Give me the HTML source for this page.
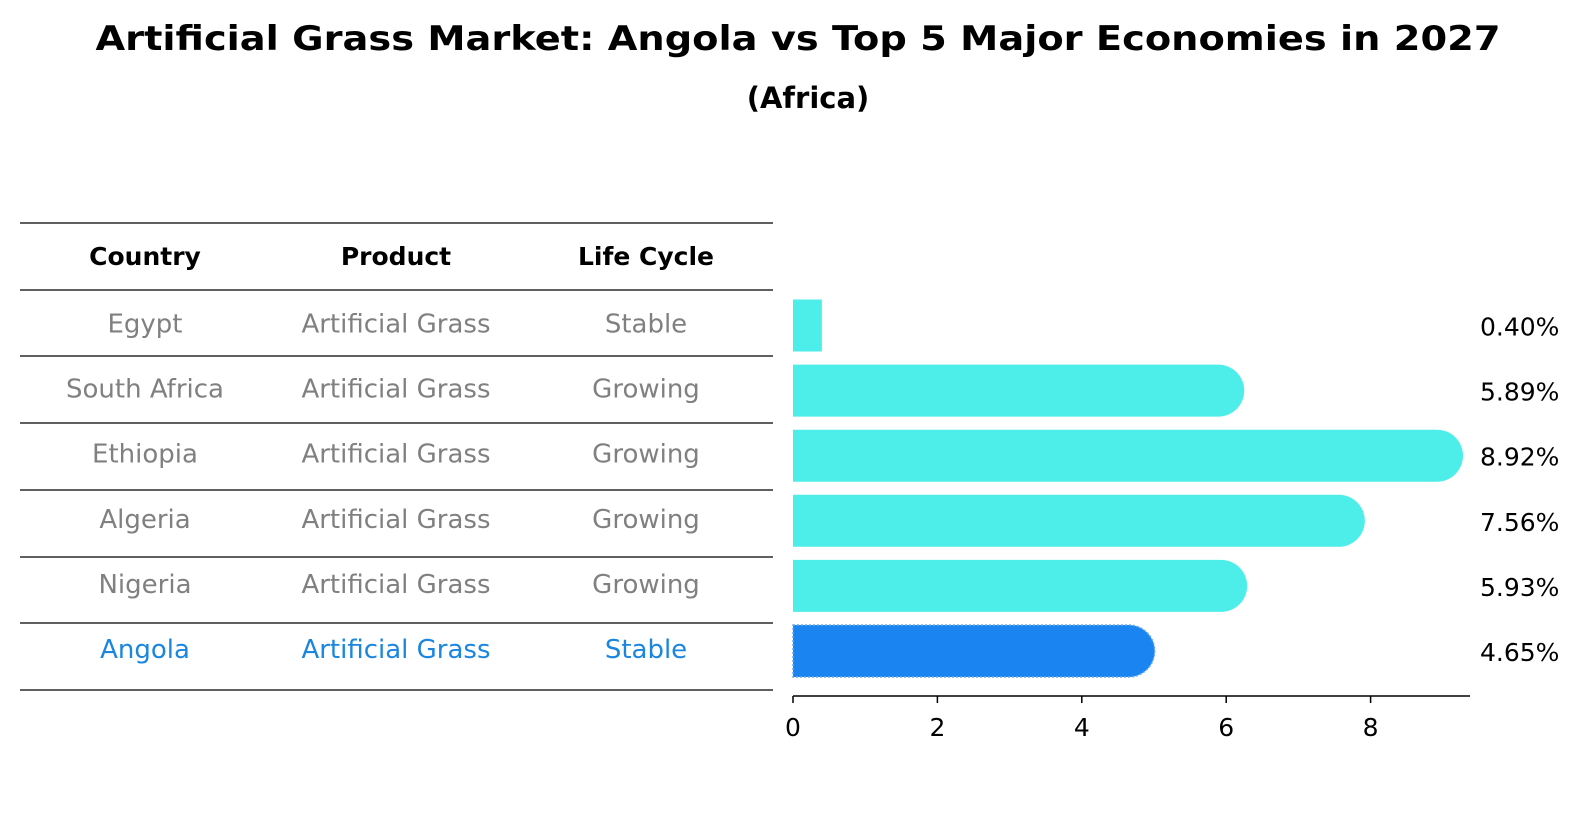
<!DOCTYPE html>
<html><head><meta charset="utf-8"><style>
body{margin:0;background:#fff}
svg{display:block;font-family:"DejaVu Sans","Liberation Sans",sans-serif}
</style></head><body>
<svg id="chart" width="1586" height="823" viewBox="0 0 1586 823" xmlns="http://www.w3.org/2000/svg">
<text x="798" y="50" text-anchor="middle" font-size="34" font-weight="bold" textLength="1405" lengthAdjust="spacingAndGlyphs">Artificial Grass Market: Angola vs Top 5 Major Economies in 2027</text>
<text x="808" y="108" text-anchor="middle" font-size="29" font-weight="bold">(Africa)</text>
<g id="table"></g>
<g id="bars"></g>
</svg>
<script>
const countries=["Egypt","South Africa","Ethiopia","Algeria","Nigeria","Angola"];
const products=["Artificial Grass","Artificial Grass","Artificial Grass","Artificial Grass","Artificial Grass","Artificial Grass"];
const lifeCycles=["Stable","Growing","Growing","Growing","Growing","Stable"];
const values=[0.40,5.89,8.92,7.56,5.93,4.65];
const valueLabels=["0.40%","5.89%","8.92%","7.56%","5.93%","4.65%"];
const xTicks=[0,2,4,6,8];
const headers=["Country","Product","Life Cycle"];

const NS="http://www.w3.org/2000/svg";
function mk(tag,attrs,parent){const e=document.createElementNS(NS,tag);for(const k in attrs)e.setAttribute(k,attrs[k]);parent.appendChild(e);return e;}
const x0=793,pxPerUnit=72.2;
function xScale(v){return x0+v*pxPerUnit;}
function yCenter(i){return 325.5+i*65.1;}
const colX=[145,396,646];
const table=document.getElementById('table');
const lineYs=[223,290,356,423,490,557,623,690];
lineYs.forEach((y,i)=>{const l=mk('line',{x1:20,x2:773,y1:y,y2:y,stroke:'#000','stroke-width':1.3},table);

});
headers.forEach((h,j)=>{const t=mk('text',{x:colX[j],y:265,'text-anchor':'middle','font-size':25,'font-weight':'bold',fill:'#000'},table);t.textContent=h;

});
countries.forEach((c,i)=>{const col=i===5?'#1a86e0':'#808080';const cy=yCenter(i)-3+10;
[c,products[i],lifeCycles[i]].forEach((txt,j)=>{const t=mk('text',{x:colX[j],y:cy,'text-anchor':'middle','font-size':26,fill:col},table);t.textContent=txt;

});});

const bars=document.getElementById('bars');
const h=52;
values.forEach((v,i)=>{const cy=yCenter(i);const xe=xScale(v);const w=xe-x0;const col=i===5?'#1a85f0':'#4deeea';
let d;
if(w<h){d=`M${x0},${cy-h/2}H${xe}V${cy+h/2}H${x0}Z`;}
else{d=`M${x0},${cy-h/2}H${xe}A${h/2},${h/2} 0 0 1 ${xe},${cy+h/2}H${x0}Z`;}
const attrs={d:d,fill:col};
if(i===5){attrs.stroke='#6aaaf2';attrs['stroke-width']=1.5;attrs['stroke-dasharray']='2 2';}
const p=mk('path',attrs,bars);


const t=mk('text',{x:1480,y:cy+10,'font-size':25,fill:'#000'},bars);t.textContent=valueLabels[i];

});
const ax=mk('line',{x1:x0,x2:1470,y1:696,y2:696,stroke:'#000','stroke-width':1.5},bars);


xTicks.forEach(v=>{const x=xScale(v);const tk=mk('line',{x1:x,x2:x,y1:696,y2:703,stroke:'#000','stroke-width':1.5},bars);


const t=mk('text',{x:x,y:736,'text-anchor':'middle','font-size':25,fill:'#000'},bars);t.textContent=String(v);

});
</script>
</body></html>
